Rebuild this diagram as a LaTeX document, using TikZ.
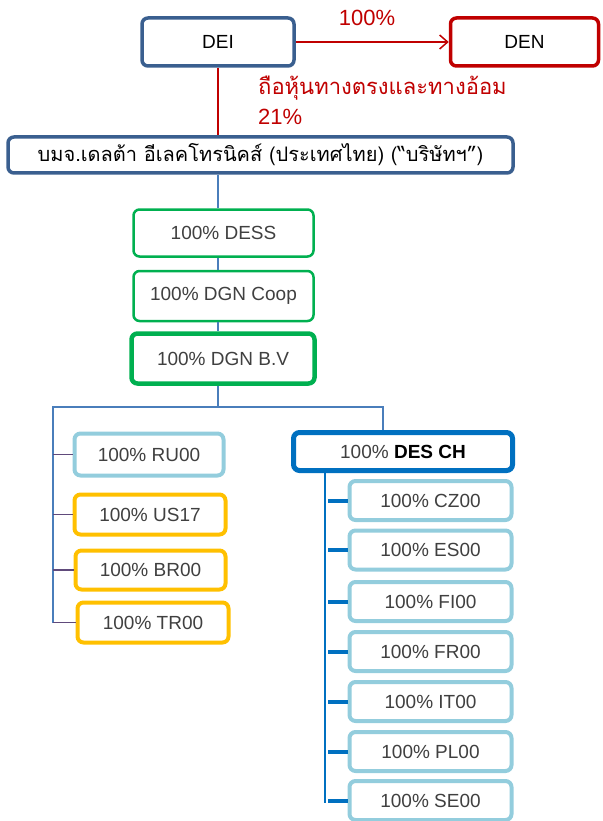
\documentclass[tikz,border=0pt]{standalone}
\usepackage{fontspec}
\setmainfont{Liberation Sans}
\newfontfamily\thaifont[Script=Thai]{Loma}
\usetikzlibrary{arrows.meta}
\definecolor{deiblue}{HTML}{3A5F8F}
\definecolor{denred}{HTML}{C00000}
\definecolor{dgreen}{HTML}{00B050}
\definecolor{lblue}{HTML}{93CDDD}
\definecolor{orng}{HTML}{FFC000}
\definecolor{desblue}{HTML}{0070C0}
\definecolor{lineblue}{HTML}{4A7EBB}
\definecolor{purp}{HTML}{604A7B}
\definecolor{txt}{HTML}{404040}
\tikzset{
  box/.style={draw, rounded corners=6pt, fill=white, text=txt, inner sep=0pt,
    font=\fontsize{19}{23}\selectfont},
  redtxt/.style={text=denred, inner sep=0pt, font=\thaifont\fontsize{22}{26}\selectfont},
  bline/.style={draw=lineblue, line width=1.3pt},
  pstub/.style={draw=purp, line width=1.5pt},
  cstub/.style={draw=desblue, line width=4pt},
}
\begin{document}
\begin{tikzpicture}[x=1pt,y=-1pt]
\useasboundingbox (0,0) rectangle (602,821);
% top
\node[box, draw=deiblue, line width=3.5pt, minimum width=152pt, minimum height=48pt, text=black] (dei) at (218,42) {DEI};
\node[box, draw=denred, line width=3.5pt, minimum width=148pt, minimum height=48pt, text=black] (den) at (524.5,42) {DEN};
\draw[denred, line width=1.5pt, -{Straight Barb[length=8pt,width=14pt]}] (dei.east) -- (den.west);
\node[redtxt, font=\fontsize{22}{26}\selectfont] (pct) at (367,18) {100\%};
\node[redtxt, anchor=west] (thl) at (258,88) {ถือหุ้นทางตรงและทางอ้อม};
\node[redtxt, anchor=west, font=\fontsize{22}{26}\selectfont] (p21) at (258,117) {21\%};
\coordinate (spine) at (218,0);
\node[box, draw=deiblue, line width=3.5pt, minimum width=505pt, minimum height=36pt, text=black,
  font=\thaifont\fontsize{20}{24}\selectfont] (main) at (260.5,155) {บมจ.เดลต้า อีเลคโทรนิคส์ (ประเทศไทย) (“บริษัทฯ”)};
\draw[denred, line width=1.5pt] (dei.south) -- (spine |- main.north);
% green chain
\node[box, draw=dgreen, line width=2.5pt, minimum width=180pt, minimum height=47pt] (dess) at (223.5,233) {100\% DESS};
\node[box, draw=dgreen, line width=2.5pt, minimum width=180pt, minimum height=50pt] (coop) at (223.5,296) {100\% DGN Coop};
\node[box, draw=dgreen, line width=4.5pt, minimum width=183pt, minimum height=50pt] (bv) at (223,358.5) {100\% DGN B.V};
\draw[bline] (spine |- main.south) -- (spine |- dess.north);
\draw[bline] (spine |- dess.south) -- (spine |- coop.north);
\draw[bline] (spine |- coop.south) -- (spine |- bv.north);
% bus
\coordinate (busL) at (53,407);
\coordinate (busR) at (383,407);
\node[box, draw=lblue, line width=4pt, minimum width=149pt, minimum height=42pt] (ru) at (149,454.5) {100\% RU00};
\node[box, draw=orng, line width=4pt, minimum width=151pt, minimum height=40pt] (us) at (150,514.5) {100\% US17};
\node[box, draw=orng, line width=4pt, minimum width=150pt, minimum height=39pt] (br) at (150.5,570) {100\% BR00};
\node[box, draw=orng, line width=4pt, minimum width=151pt, minimum height=40pt] (tr) at (153,622.5) {100\% TR00};
\node[box, draw=desblue, line width=5pt, minimum width=219pt, minimum height=38pt] (desch) at (403,451.5) {100\% \textcolor{black}{\textbf{DES CH}}};
\draw[bline] (spine |- bv.south) -- (spine |- busL);
\draw[bline] (busL |- tr.west) -- (busL) -- (busR) -- (busR |- desch.north);
\draw[pstub] (busL |- ru.west) -- (ru.west);
\draw[pstub] (busL |- us.west) -- (us.west);
\draw[pstub] (busL |- br.west) -- (br.west);
\draw[pstub] (busL |- tr.west) -- (tr.west);
% DES CH children
\coordinate (chbus) at (325,0);
\foreach \nm/\lab/\yy in {cz/CZ00/500.5, es/ES00/550, fi/FI00/601.5, fr/FR00/651.5, it/IT00/701.5, pl/PL00/751.5, se/SE00/800.5}{
  \node[box, draw=lblue, line width=4pt, minimum width=162pt, minimum height=39pt] (\nm) at (430.5,\yy) {100\% \lab};
}
\draw[draw=desblue, line width=1.5pt] (chbus |- desch.south) -- ([yshift=-2pt]chbus |- se.west);
\foreach \nm in {cz,es,fi,fr,it,pl,se}{
  \draw[cstub] ([xshift=3pt]chbus |- \nm.west) -- (\nm.west);
}
\end{tikzpicture}
\end{document}
